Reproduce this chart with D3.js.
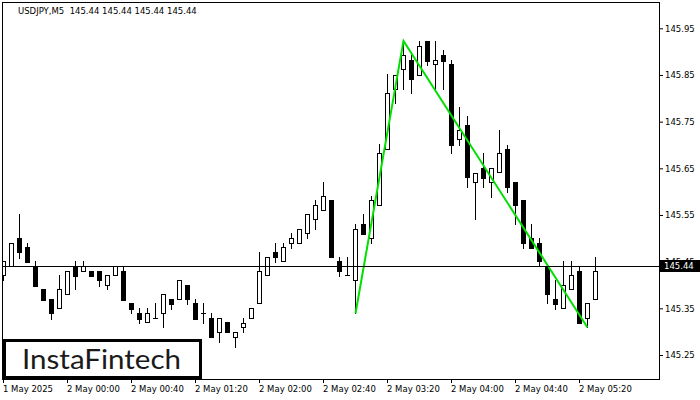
<!DOCTYPE html>
<html><head><meta charset="utf-8">
<script src="https://cdn.jsdelivr.net/npm/d3@7"></script>
<style>body{margin:0;background:#fff}svg{display:block}</style>
</head><body><svg id="c" width="700" height="400"></svg>
<script>
const symbolTitle = "USDJPY,M5  145.44 145.44 145.44 145.44";
const opens  = [145.421,145.440,145.500,145.481,145.440,145.391,145.370,145.350,145.380,145.440,
                145.429,145.430,145.430,145.399,145.421,145.430,145.361,145.339,145.320,145.330,
                145.339,145.370,145.370,145.399,145.361,145.339,145.329,145.299,145.321,145.289,
                145.309,145.329,145.361,145.421,145.471,145.451,145.489,145.489,145.511,145.541,
                145.560,145.582,145.451,145.421,145.410,145.531,145.501,145.571,145.691,145.821,
                145.862,145.882,145.851,145.923,145.873,145.893,145.873,145.712,145.742,145.620,
                145.650,145.621,145.642,145.691,145.621,145.582,145.500,145.489,145.439,145.369,
                145.350,145.391,145.429,145.329,145.369];
const highs  = [145.451,145.491,145.552,145.489,145.451,145.391,145.370,145.421,145.430,145.451,
                145.451,145.430,145.430,145.421,145.440,145.440,145.361,145.350,145.350,145.361,
                145.380,145.370,145.411,145.399,145.370,145.361,145.339,145.329,145.321,145.299,
                145.329,145.350,145.471,145.459,145.491,145.491,145.511,145.521,145.552,145.582,
                145.621,145.582,145.460,145.460,145.531,145.552,145.591,145.702,145.852,145.851,
                145.923,145.893,145.923,145.923,145.923,145.903,145.882,145.781,145.762,145.641,
                145.682,145.650,145.732,145.701,145.621,145.582,145.531,145.500,145.439,145.411,
                145.451,145.451,145.439,145.361,145.461];
const lows   = [145.411,145.440,145.458,145.450,145.398,145.368,145.328,145.350,145.380,145.391,
                145.429,145.420,145.398,145.391,145.421,145.368,145.339,145.319,145.320,145.330,
                145.309,145.349,145.370,145.359,145.328,145.319,145.289,145.278,145.299,145.268,
                145.299,145.329,145.361,145.421,145.450,145.451,145.480,145.489,145.501,145.521,
                145.560,145.459,145.420,145.421,145.339,145.510,145.490,145.571,145.691,145.791,
                145.821,145.811,145.851,145.871,145.821,145.821,145.682,145.701,145.611,145.541,
                145.611,145.589,145.642,145.600,145.531,145.480,145.480,145.441,145.361,145.349,
                145.350,145.391,145.319,145.309,145.369];
const closes = [145.451,145.491,145.470,145.450,145.398,145.368,145.339,145.391,145.430,145.420,
                145.440,145.420,145.410,145.421,145.440,145.368,145.349,145.328,145.339,145.330,
                145.380,145.360,145.411,145.369,145.328,145.339,145.289,145.329,145.299,145.299,
                145.319,145.350,145.430,145.459,145.459,145.481,145.500,145.521,145.552,145.571,
                145.591,145.459,145.429,145.421,145.521,145.510,145.582,145.682,145.811,145.851,
                145.893,145.842,145.912,145.881,145.882,145.881,145.701,145.732,145.631,145.641,
                145.630,145.650,145.682,145.611,145.571,145.489,145.480,145.451,145.380,145.360,
                145.399,145.421,145.319,145.361,145.429];
const yTickValues = [145.25,145.35,145.45,145.55,145.65,145.75,145.85,145.95];
const xTickIndex  = [0,8,16,24,32,40,48,56,64,72];
const xTickLabels = ["1 May 2025","2 May 00:00","2 May 00:40","2 May 01:20","2 May 02:00",
                     "2 May 02:40","2 May 03:20","2 May 04:00","2 May 04:40","2 May 05:20"];
const patternIdx  = [44,50,73];
const patternVal  = [145.339,145.923,145.309];
const lastPrice = 145.44;
const lastPriceLabel = "145.44";
const logoText = "InstaFintech";

const svg = d3.select("#c");
svg.append("rect").attr("width",700).attr("height",400).attr("fill","#fff");
const F = {l:2.5, r:659.5, t:2.5, b:379.5};
const x = d3.scaleLinear().domain([0,74]).range([3,595]);
const y = d3.scaleLinear().domain([145.25,145.95]).range([355,28.3]);
const font = "DejaVu Sans";

svg.append("defs").append("clipPath").attr("id","plot")
  .append("rect").attr("x",3).attr("y",3).attr("width",656).attr("height",376);

// title
svg.append("text").attr("x",18).attr("y",14).attr("font-family",font).attr("font-size",8.5)
  .attr("fill","#000").style("white-space","pre").text(symbolTitle);

// candles
const data = opens.map((o,i)=>({i,o,h:highs[i],l:lows[i],c:closes[i]}));
const g = svg.append("g").attr("clip-path","url(#plot)");
const px = d => Math.round(x(d.i));
g.selectAll("line.wick").data(data).enter().append("line")
  .attr("x1",d=>px(d)+0.5).attr("x2",d=>px(d)+0.5)
  .attr("y1",d=>Math.round(y(d.h))).attr("y2",d=>Math.round(y(d.l))+1)
  .attr("stroke","#000").attr("stroke-width",1);
g.selectAll("rect.body").data(data.filter(d=>d.o!==d.c)).enter().append("rect")
  .attr("x",d=>px(d)-1.5).attr("width",4)
  .attr("y",d=>Math.round(y(Math.max(d.o,d.c)))+0.5)
  .attr("height",d=>Math.max(1,Math.round(y(Math.min(d.o,d.c)))-Math.round(y(Math.max(d.o,d.c)))))
  .attr("fill",d=>d.c>d.o?"#fff":"#000").attr("stroke","#000").attr("stroke-width",1);
g.selectAll("line.doji").data(data.filter(d=>d.o===d.c)).enter().append("line")
  .attr("x1",d=>px(d)-2).attr("x2",d=>px(d)+3)
  .attr("y1",d=>Math.round(y(d.o))+0.5).attr("y2",d=>Math.round(y(d.o))+0.5)
  .attr("stroke","#000");

// price line
const yp = Math.round(y(lastPrice))+0.5;
svg.append("line").attr("x1",F.l).attr("x2",F.r).attr("y1",yp).attr("y2",yp).attr("stroke","#000");

// pattern line
const pts = patternIdx.map((d,k)=>[x(d)+0.5, y(patternVal[k])]);
g.append("path").attr("d",d3.line()(pts)).attr("fill","none")
  .attr("stroke","#00e000").attr("stroke-width",2);

// frame
svg.append("rect").attr("x",F.l).attr("y",F.t).attr("width",F.r-F.l).attr("height",F.b-F.t)
  .attr("fill","none").attr("stroke","#000");

// y axis
const ya = svg.append("g").attr("transform","translate(659,0)")
  .call(d3.axisRight(y).tickValues(yTickValues).tickSize(4).tickPadding(2).tickFormat(d3.format(".2f")));
ya.select(".domain").remove();
ya.selectAll("text").attr("font-family",font).attr("font-size",8.5).attr("fill","#000");
ya.selectAll("line").attr("stroke","#000");

// x axis
const xa = svg.append("g").attr("transform","translate(0,379)")
  .call(d3.axisBottom(x).tickValues(xTickIndex).tickSize(4).tickFormat((d,i)=>xTickLabels[i]));
xa.select(".domain").remove();
xa.selectAll("text").attr("font-family",font).attr("font-size",8.5).attr("fill","#000")
  .attr("text-anchor","start").attr("x",-0.5).attr("y",13).attr("dy",0);
xa.selectAll("line").attr("stroke","#000");

// last price label
svg.append("rect").attr("x",660).attr("y",260).attr("width",40).attr("height",12).attr("fill","#000");
svg.append("text").attr("x",664).attr("y",266).attr("dy","0.35em").attr("font-family",font)
  .attr("font-size",8.5).attr("fill","#fff").text(lastPriceLabel);

// logo
svg.append("rect").attr("x",4.5).attr("y",340.5).attr("width",196).attr("height",37)
  .attr("fill","#fff").attr("stroke","#000").attr("stroke-width",3);
svg.append("text").attr("x",22).attr("y",369).attr("font-family","Lato").attr("font-weight",400)
  .attr("font-size",27).attr("fill","#1a1a1a").attr("textLength",159).attr("lengthAdjust","spacingAndGlyphs")
  .text(logoText);
</script></body></html>
